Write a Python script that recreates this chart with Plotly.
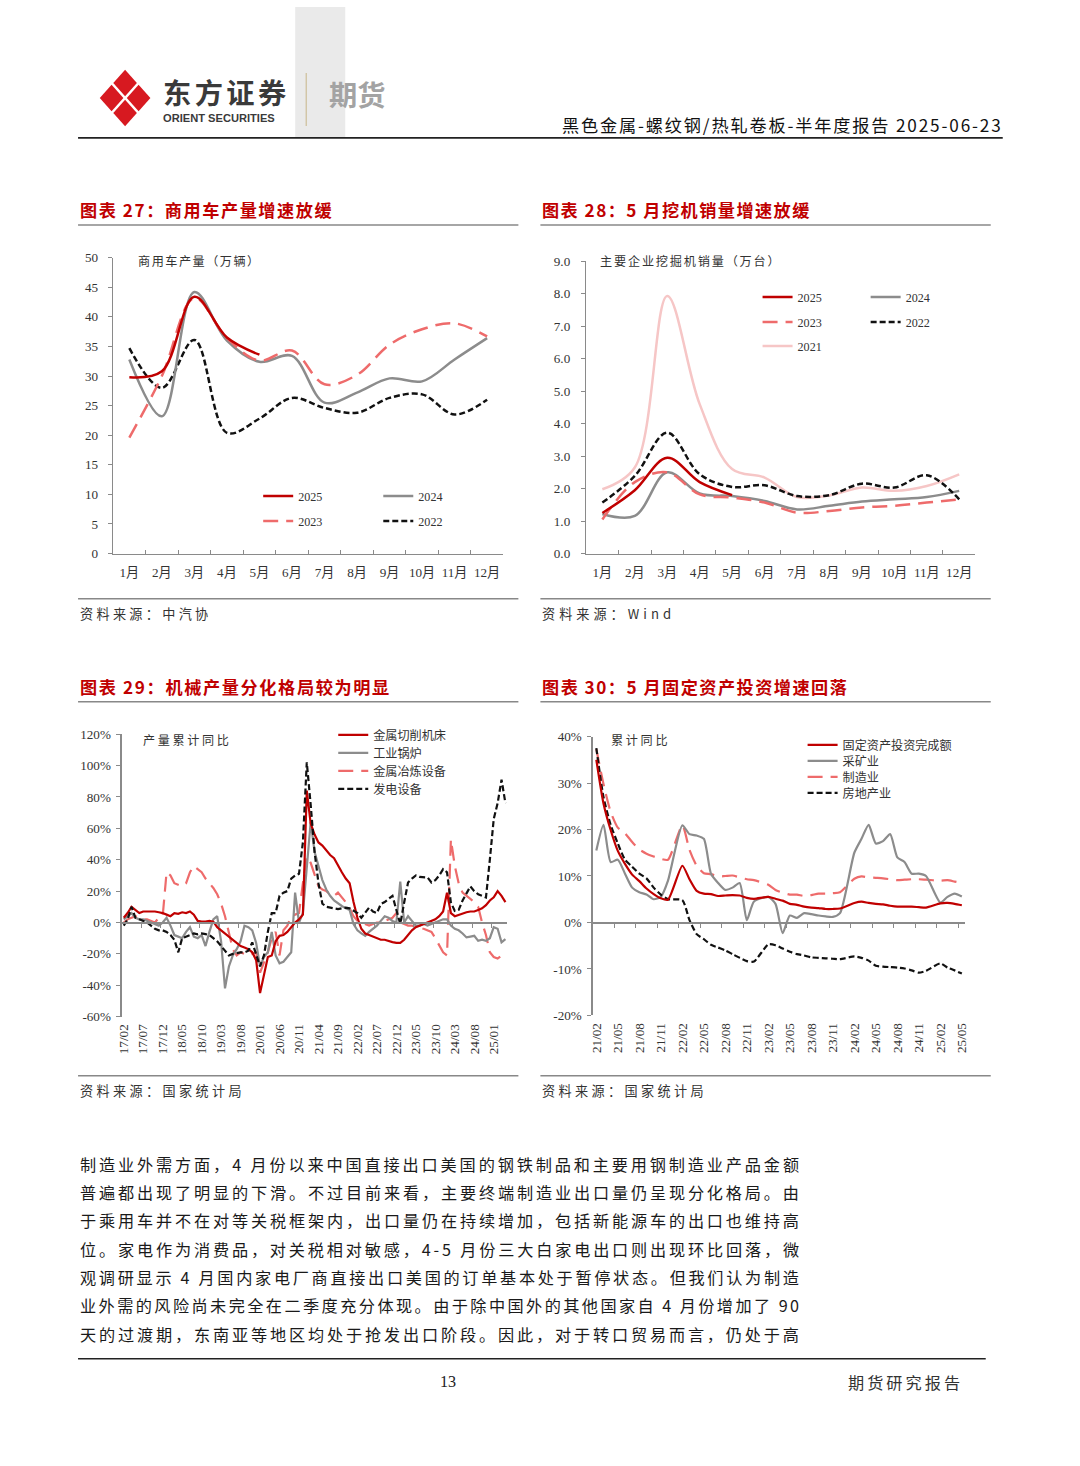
import plotly.graph_objects as go
import pandas as pd

W, H = 1080, 1466
# the photographed page comes out scaled by ~0.99 with a ~6px border; positions below are
# given in target-picture pixels and converted back to page pixels
S, O = 0.99, 6.0
def pg(v): return (v - O) / S
def fx(x): return pg(x) / W
def fy(y): return 1 - pg(y) / H
def fs(s): return s / S

SERIF = "Liberation Serif, Noto Sans CJK SC, serif"
CJK = "Noto Sans CJK SC, sans-serif"
RED = "#C00000"; GRAY = "#8C8C8C"; SALMON = "#EE6B6B"; PINK = "#F6C6C6"; BLACK = "#111111"
AXC = "#8A8A8A"; TXT = "#333333"
DASH_L = "15px,8px"; DASH_S = "6px,3px"

# ---------------- chart 27: 商用车产量（万辆）----------------
months12 = ["1月", "2月", "3月", "4月", "5月", "6月", "7月", "8月", "9月", "10月", "11月", "12月"]
cv_2025 = [29.8, 30.8, 43.4, 36.5, 33.6]
cv_2024 = [32.8, 23.2, 44.2, 36.0, 32.4, 33.4, 25.5, 27.2, 29.6, 29.1, 32.8, 36.4]
cv_2023 = [19.6, 30.0, 43.2, 36.4, 32.6, 34.3, 28.6, 30.2, 35.3, 37.9, 38.9, 36.7]
cv_2022 = [34.7, 28.0, 36.1, 20.4, 22.8, 26.3, 24.6, 23.8, 26.3, 26.9, 23.5, 26.0]

# ---------------- chart 28: 挖掘机销量（万台）----------------
ex_2025 = [1.25, 1.95, 2.95, 2.2, 1.8]
ex_2024 = [1.22, 1.16, 2.5, 1.85, 1.77, 1.62, 1.36, 1.47, 1.6, 1.67, 1.74, 1.93]
ex_2023 = [1.05, 2.2, 2.5, 1.82, 1.72, 1.57, 1.26, 1.31, 1.42, 1.47, 1.57, 1.67]
ex_2022 = [1.57, 2.39, 3.72, 2.44, 2.05, 2.1, 1.77, 1.8, 2.15, 2.03, 2.41, 1.67]
ex_2021 = [1.98, 2.65, 7.93, 4.6, 2.6, 2.34, 1.74, 1.79, 2.03, 1.93, 2.08, 2.44]

# ---------------- chart 29: 机械产量累计同比（%）----------------
months29 = list(pd.date_range("2017-02-01", periods=99, freq="MS").strftime("%y/%m"))
mach_cut = [3, 6, 10, 8, 6, 7, 7, 7, 7, 6.5,
            6, 5, 4, 6, 5.5, 6.5, 6, 7, 5, 1,
            0.5, 0.5, 1, 0.5, -3, -5, -7, -9, -11, -13,
            -15, -16, -17, -19, -24, -45, -33, -22, -21, -12,
            -8.5, -8, -6, -3, 0, 2, 5, 84, 63, 56,
            51, 49, 46, 43, 41, 36, 32, 28, 25, 13,
            3, -4, -7, -8, -9, -10, -11, -11, -12, -12.5,
            -13, -13, -11, -8, -5, -3, -2, -1, 0, 1,
            2, 4, 7, 19, 6, 4, 5, 6, 6.5, 7,
            7, 8, 9, 11, 14, 16, 20, 17, 13]
boiler = [2, 4, 6, 3, 2, 2, 1, 0, -1, -2,
          0, 3, -2, -8, -9, -10, -6, -3, -9, -10,
          -8, -15, -6, 2, 4, -12, -42, -28, -21, -17,
          -12, -2, -3, -5, -13, -28, -22, -19, -6, -21,
          -26, -25, -22, -19, 19, 0, 6, 36, 64, 45,
          35, 27, 21, 17, 14, 12, 10.5, 9, 8, -1,
          -5, -7, -8.5, -6, -4, -2, 1, 4, 3, 1,
          0, 26, 0, 4, 1, -2, -2, -1, -2, -1,
          0, 1, 2, 2, -2, -4, -5, -7, -9.5, -9,
          -8.5, -11.7, -11, -11.7, -10, -3, -4, -12.7, -10.6]
smelt = [0, 2, 3, 4, 3, 2, 2, 1, 0, 3,
         4, 32, 30, 25, 24, 23, 25, 32, 36, 34,
         32, 28, 25, 22, 18, 12, 4, -6, -17, -21,
         -19, -20, -21, -20, -19, -32, -25, -19, -10, -6,
         -21, -5, -2, 4, 5, 6, 25, 42, 38, 30,
         23, 21, 20, 18, 17, 19, 16, 13, 9, 4,
         1, 0, -1, -2, -1, 0, 0, 1, 2, 3,
         6, 0, -1, -2, -2, -3, -4, -4, -5, -6,
         -10, -15, -19, -21, 53, 36, 25, 19, 17, 15,
         13, 10, 0, -8, -19, -22, -23, -21, -19]
power = [-2, 2, 10, 3, 2, 1, 0, -2, -4, -5,
         -5, -6, -8, -11, -19, -10, -9, -8, -7, -7.5,
         -7, -7.4, -8, -10, -12, -15, -18, -21, -20, -19.5,
         -19, -19, -18, -12.7, -20, -28, -21, -6, 6, 6,
         17, 19, 20, 28, 30, 31, 51, 102, 75, 45,
         25, 12, 10, 9.5, 9, 8.5, 9, 9.5, 9, 7.4,
         6, 3, 6, 9.5, 7, 6, 11.7, 13, 15, 17,
         8, -1, 12.7, 25.5, 28, 30, 29, 28.7, 28.7, 25.5,
         27, 30, 34, 32, 12.7, 7.4, 8, 14, 19, 23,
         20, 18, 17, 16, 40, 66, 76, 91, 76]
ticks29_y = [-60, -40, -20, 0, 20, 40, 60, 80, 100, 120]
ticks29_txt = ["-60%", "-40%", "-20%", "0%", "20%", "40%", "60%", "80%", "100%", "120%"]

# ---------------- chart 30: 固定资产投资累计同比（%）----------------
months30 = list(pd.date_range("2021-02-01", periods=52, freq="MS").strftime("%y/%m"))
fai_total = [35.0, 25.6, 19.9, 15.4, 12.6, 10.3, 8.9, 7.3, 6.1, 5.2, 4.9, None,
             12.2, 9.3, 6.8, 6.2, 6.1, 5.7, 5.8, 5.9, 5.8, 5.3, 5.1, None,
             5.5, 5.1, 4.7, 4.0, 3.8, 3.4, 3.2, 3.1, 2.9, 2.9, 3.0, None,
             4.2, 4.5, 4.2, 4.0, 3.9, 3.6, 3.4, 3.4, 3.4, 3.3, 3.2, None,
             4.1, 4.2, 4.0, 3.7]
fai_mining = [15.5, 21.0, 13.0, 13.5, 10.5, 7.5, 6.5, 6.0, 5.0, 5.5, 9.0, None,
              20.9, 19.0, 18.7, 18.0, 10.5, 8.5, 7.0, 7.5, 8.5, 0.5, 4.5, None,
              5.5, 4.0, -2.3, 1.5, 1.0, 2.0, 1.8, 1.5, 1.3, 1.2, 2.0, None,
              15.0, 18.0, 21.0, 17.0, 17.5, 19.0, 14.0, 13.0, 10.5, 10.5, 10.0, None,
              4.3, 5.5, 6.2, 5.6]
fai_manu = [37.3, 29.8, 23.8, 20.4, 19.2, 17.3, 15.7, 14.8, 14.2, 13.7, 13.5, None,
            20.9, 15.6, 12.2, 10.6, 10.4, 9.9, 10.0, 10.1, 9.7, 9.3, 9.1, None,
            8.1, 7.0, 6.4, 6.0, 6.0, 5.7, 5.9, 6.2, 6.2, 6.3, 6.5, None,
            9.4, 9.9, 9.7, 9.6, 9.5, 9.3, 9.1, 9.2, 9.3, 9.3, 9.2, None,
            9.0, 9.1, 8.8, 8.5]
fai_estate = [37.5, 27.0, 21.0, 17.0, 13.5, 12.0, 10.5, 9.5, 7.5, 6.0, 5.0, None,
              4.8, 0.5, -2.5, -3.6, -4.8, -5.4, -6.0, -6.8, -7.6, -8.3, -8.4, None,
              -4.7, -4.9, -5.6, -6.3, -6.8, -7.1, -7.5, -7.6, -7.7, -7.8, -7.9, None,
              -7.3, -7.6, -8.2, -9.3, -9.5, -9.6, -9.7, -9.9, -10.3, -10.8, -10.4, None,
              -8.8, -9.7, -10.3, -11.0]
ticks30_y = [-20, -10, 0, 10, 20, 30, 40]
ticks30_txt = ["-20%", "-10%", "0%", "10%", "20%", "30%", "40%"]

fig = go.Figure()

def line(x, y, name, color, width, dash, shape, xa, ya, leg, smoothing=1.0, connect=False):
    fig.add_trace(go.Scatter(
        x=x, y=y, name=name, mode="lines",
        line=dict(color=color, width=width, dash=dash, shape=shape, smoothing=smoothing),
        xaxis=xa, yaxis=ya, legend=leg, connectgaps=connect, hoverinfo="skip"))

# chart 27 traces
line(months12, cv_2022, "2022", BLACK, 2.5, DASH_S, "spline", "x", "y", "legend4")
line(months12, cv_2024, "2024", GRAY, 2.5, "solid", "spline", "x", "y", "legend2")
line(months12, cv_2023, "2023", SALMON, 2.5, DASH_L, "spline", "x", "y", "legend3")
line(months12[:5], cv_2025, "2025", RED, 2.5, "solid", "spline", "x", "y", "legend")
# chart 28 traces
line(months12, ex_2021, "2021", PINK, 2.5, "solid", "spline", "x2", "y2", "legend9")
line(months12, ex_2024, "2024", GRAY, 2.5, "solid", "spline", "x2", "y2", "legend6")
line(months12, ex_2023, "2023", SALMON, 2.5, DASH_L, "spline", "x2", "y2", "legend7")
line(months12, ex_2022, "2022", BLACK, 2.5, DASH_S, "spline", "x2", "y2", "legend8")
line(months12[:5], ex_2025, "2025", RED, 2.5, "solid", "spline", "x2", "y2", "legend5")
# chart 29 traces
line(months29, smelt, "金属冶炼设备", SALMON, 2.2, DASH_L, "linear", "x3", "y3", "legend12")
line(months29, boiler, "工业锅炉", GRAY, 2.2, "solid", "linear", "x3", "y3", "legend11")
line(months29, mach_cut, "金属切削机床", RED, 2.2, "solid", "linear", "x3", "y3", "legend10")
line(months29, power, "发电设备", BLACK, 2.2, DASH_S, "linear", "x3", "y3", "legend13")
# chart 30 traces
line(months30, fai_manu, "制造业", SALMON, 2.2, DASH_L, "spline", "x4", "y4", "legend16", 0.6, True)
line(months30, fai_mining, "采矿业", GRAY, 2.2, "solid", "spline", "x4", "y4", "legend15", 0.6, True)
line(months30, fai_estate, "房地产业", BLACK, 2.2, DASH_S, "spline", "x4", "y4", "legend17", 0.6, True)
line(months30, fai_total, "固定资产投资完成额", RED, 2.2, "solid", "spline", "x4", "y4", "legend14", 0.6, True)
# helper traces for zero-line axes
fig.add_trace(go.Scatter(x=[None], y=[None], xaxis="x5", yaxis="y3", showlegend=False, hoverinfo="skip"))
fig.add_trace(go.Scatter(x=[None], y=[None], xaxis="x6", yaxis="y4", showlegend=False, hoverinfo="skip"))

tickfont = dict(family=SERIF, size=fs(13), color=TXT)
base = dict(showgrid=False, zeroline=False, showline=True, linecolor=AXC, linewidth=1.3,
            tickcolor=AXC, ticklen=4, tickwidth=1, tickfont=tickfont, fixedrange=True)

layout = dict(
    width=W, height=H, margin=dict(l=0, r=0, t=0, b=0),
    paper_bgcolor="white", plot_bgcolor="white", showlegend=True,
    xaxis=dict(base, domain=[fx(113), fx(503)], anchor="y", type="category", range=[-0.5, 11.5],
               tickson="boundaries", ticks="inside", tickangle=0, ticklabelstandoff=6),
    yaxis=dict(base, domain=[fy(552.7), fy(256.7)], anchor="x", range=[0, 50], dtick=5, tick0=0,
               ticks="outside", ticklabelstandoff=7),
    xaxis2=dict(base, domain=[fx(585.7), fx(974.7)], anchor="y2", type="category", range=[-0.5, 11.5],
                tickson="boundaries", ticks="inside", tickangle=0, ticklabelstandoff=6),
    yaxis2=dict(base, domain=[fy(552.7), fy(260.2)], anchor="x2", range=[0, 9], dtick=1, tick0=0,
                tickformat=".1f", ticks="outside", ticklabelstandoff=8),
    xaxis3=dict(base, domain=[fx(121.7), fx(507)], anchor="y3", type="category", range=[-0.5, 98.5],
                showline=False, ticks="", tickvals=months29[::5], tickangle=-90, ticklabelstandoff=4),
    yaxis3=dict(base, domain=[fy(1015.9), fy(733.3)], anchor="x3", range=[-60, 120],
                tickvals=ticks29_y, ticktext=ticks29_txt, ticks="outside", ticklabelstandoff=3),
    xaxis5=dict(base, overlaying="x3", anchor="free", position=fy(921.7), type="linear",
                range=[-0.5, 98.5], tickvals=[-0.5 + 5 * k for k in range(20)], ticks="outside",
                showticklabels=False),
    xaxis4=dict(base, domain=[fx(592.3), fx(964.7)], anchor="y4", type="category", range=[-0.5, 51.5],
                showline=False, ticks="", tickvals=months30[::3], tickangle=-90, ticklabelstandoff=4),
    yaxis4=dict(base, domain=[fy(1014.7), fy(735.7)], anchor="x4", range=[-20, 40],
                tickvals=ticks30_y, ticktext=ticks30_txt, ticks="outside", ticklabelstandoff=3),
    xaxis6=dict(base, overlaying="x4", anchor="free", position=fy(921.7), type="linear",
                range=[-0.5, 51.5], tickvals=[-0.5 + 3 * k for k in range(18)], ticks="outside",
                showticklabels=False),
)

def leg(xl, yc, family=SERIF, size=12):
    return dict(x=fx(xl), y=fy(yc), xanchor="left", yanchor="middle", bgcolor="rgba(0,0,0,0)",
                borderwidth=0, font=dict(family=family, size=fs(size), color=TXT), orientation="v")

legpos = {
    "legend": (258, 495), "legend2": (378, 495), "legend3": (258, 520), "legend4": (378, 520),
    "legend5": (757, 296), "legend6": (865, 296), "legend7": (757, 321), "legend8": (865, 321),
    "legend9": (757, 345),
}
for k, (a, b) in legpos.items():
    layout[k] = leg(a, b)
for i, yy in enumerate([734, 752, 770, 788]):
    layout["legend%d" % (10 + i)] = leg(333, yy, CJK, 12)
for i, yy in enumerate([744, 760, 776, 792]):
    layout["legend%d" % (14 + i)] = leg(802, yy, CJK, 12)

fig.update_layout(**layout)

# ---------------- text helpers ----------------
def est_width(s, size):
    w = 0.0
    for ch in s:
        if ord(ch) > 0x2E80:
            w += size
        elif ch == " ":
            w += size * 0.23
        elif ch.isdigit():
            w += size * 0.55
        else:
            w += size * 0.33
    return w

def spaced(s, size, target):
    ls = (target - est_width(s, size)) / max(len(s) - 1, 1)
    return '<span style="letter-spacing:%.2fpx">%s</span>' % (ls, s)

PAD = 2.5  # annotation box inset
anns = []
def text(x, y, s, size, color=TXT, family=CJK, anchor="left", target=None, bold=False):
    size = fs(size)
    t = spaced(s, size, target / S) if target else s
    if bold:
        t = "<b>" + t + "</b>"
    xx = x - PAD if anchor == "left" else (x + PAD if anchor == "right" else x)
    anns.append(dict(x=fx(xx), y=fy(y), xref="paper", yref="paper", text=t, showarrow=False,
                     xanchor=anchor, yanchor="middle", font=dict(family=family, size=size, color=color)))

# header
text(163, 91, "东方证券", 28, "#3A3A3A", bold=True, target=122)
text(163, 117.5, "ORIENT SECURITIES", 11, "#3A3A3A", "Liberation Sans, Arial, sans-serif", bold=True)
text(329, 93, "期货", 28, "#A3A3A3", bold=True)
text(1002, 124, "黑色金属-螺纹钢/热轧卷板-半年度报告 2025-06-23", 17, "#111111", anchor="right", target=432)

# chart titles
text(80, 209, "图表 27：商用车产量增速放缓", 17, RED, target=248, bold=True)
text(542, 209, "图表 28：5 月挖机销量增速放缓", 17, RED, target=263, bold=True)
text(80, 686, "图表 29：机械产量分化格局较为明显", 17, RED, target=305, bold=True)
text(542, 686, "图表 30：5 月固定资产投资增速回落", 17, RED, target=300, bold=True)

# in-chart captions
text(138, 260, "商用车产量（万辆）", 12, TXT, target=120)
text(600, 260, "主要企业挖掘机销量（万台）", 12, TXT, target=178)
text(143, 739, "产量累计同比", 12, TXT, target=85)
text(611, 739, "累计同比", 12, TXT, target=56)

# sources
text(80, 613, "资料来源：中汽协", 13, TXT, target=127)
text(542, 613, "资料来源：Wind", 13, TXT, target=114)
text(80, 1090, "资料来源：国家统计局", 13, TXT, target=160)
text(542, 1090, "资料来源：国家统计局", 13, TXT, target=160)

# body
body_lines = [
    "制造业外需方面，4 月份以来中国直接出口美国的钢铁制品和主要用钢制造业产品金额",
    "普遍都出现了明显的下滑。不过目前来看，主要终端制造业出口量仍呈现分化格局。由",
    "于乘用车并不在对等关税框架内，出口量仍在持续增加，包括新能源车的出口也维持高",
    "位。家电作为消费品，对关税相对敏感，4-5 月份三大白家电出口则出现环比回落，微",
    "观调研显示 4 月国内家电厂商直接出口美国的订单基本处于暂停状态。但我们认为制造",
    "业外需的风险尚未完全在二季度充分体现。由于除中国外的其他国家自 4 月份增加了 90",
    "天的过渡期，东南亚等地区均处于抢发出口阶段。因此，对于转口贸易而言，仍处于高",
]
for k, s in enumerate(body_lines):
    text(80, 1163 + k * 28.33, s, 16, "#1A1A1A", target=712)

# footer
text(448, 1381, "13", 16, "#222222", SERIF, anchor="center")
text(962, 1381, "期货研究报告", 16, "#333333", anchor="right", target=111)

# ---------------- shapes ----------------
shapes = []
def hline(x0, x1, y, color="#888888", width=1.5):
    shapes.append(dict(type="line", xref="paper", yref="paper", x0=fx(x0), x1=fx(x1), y0=fy(y), y1=fy(y),
                       line=dict(color=color, width=width)))

shapes.append(dict(type="rect", xref="paper", yref="paper", x0=fx(295), x1=fx(345), y0=fy(137), y1=1,
                   fillcolor="#EAEAEA", line=dict(width=0), layer="below"))
shapes.append(dict(type="line", xref="paper", yref="paper", x0=fx(306), x1=fx(306), y0=fy(72), y1=fy(125),
                   line=dict(color="#CDBE98", width=1.2)))

def diamond(cx, cy, a, b):
    return "M %f,%f L %f,%f L %f,%f L %f,%f Z" % (fx(cx), fy(cy - b), fx(cx + a), fy(cy),
                                                  fx(cx), fy(cy + b), fx(cx - a), fy(cy))
for (cx, cy) in [(125, 82), (111.5, 97), (138.5, 97), (125, 112)]:
    shapes.append(dict(type="path", xref="paper", yref="paper", path=diamond(cx, cy, 11.8, 13.2),
                       fillcolor="#D71920", line=dict(width=0)))

hline(78, 1002, 137, "#222222", 1.8)
hline(78, 518, 224); hline(540, 990, 224)
hline(78, 518, 598); hline(540, 990, 598)
hline(78, 518, 701); hline(540, 990, 701)
hline(78, 518, 1075); hline(540, 990, 1075)
hline(78, 985, 1358, "#222222", 1.5)

fig.update_layout(annotations=anns, shapes=shapes)

fig.write_html(
    "out.html", config={"displayModeBar": False, "staticPlot": True},
    post_script=("document.documentElement.style.margin='0';document.body.style.margin='0';"
                 "document.body.style.padding='0';"))
